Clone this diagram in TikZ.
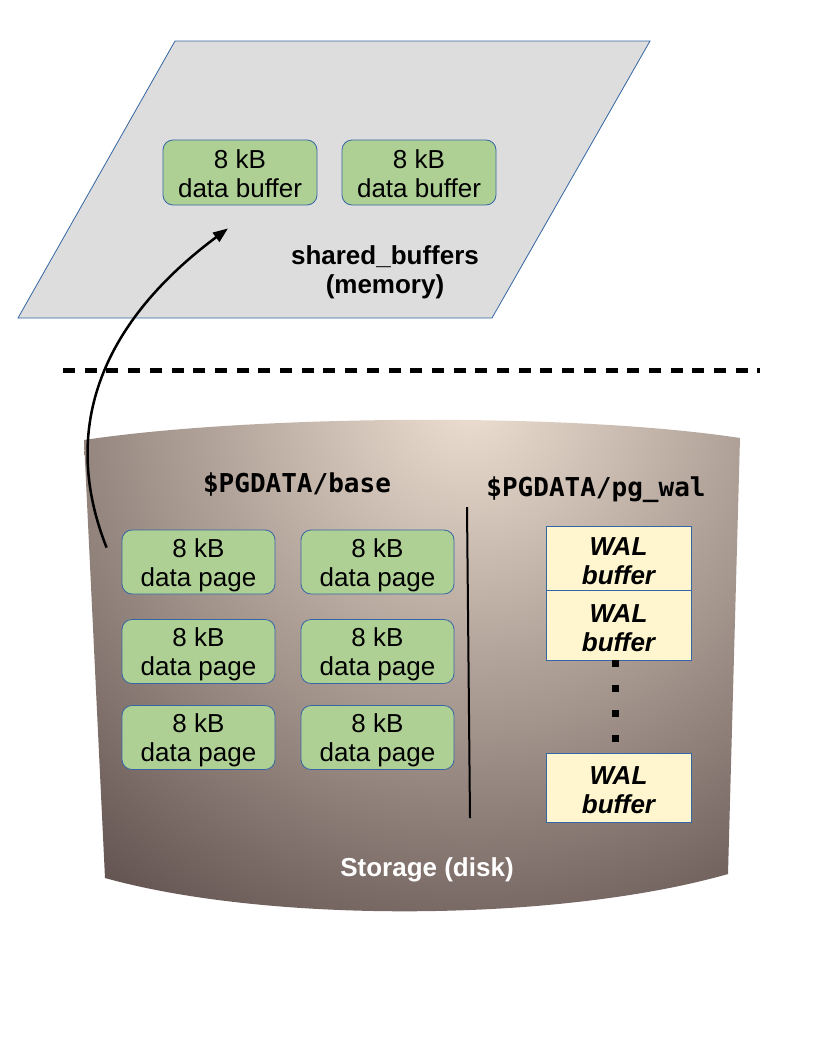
\documentclass[tikz,border=0pt]{standalone}
\usepackage{fontspec}
\setmainfont{Liberation Sans}
\newfontfamily\pgmono{DejaVu Sans Mono}
\usetikzlibrary{arrows.meta}
\definecolor{memgray}{HTML}{DDDDDD}
\definecolor{lineblue}{HTML}{3465A4}
\definecolor{pagegreen}{HTML}{AFD095}
\definecolor{walyellow}{HTML}{FFF5CE}
\definecolor{disklight}{HTML}{EDDFD1}
\definecolor{diskdark}{HTML}{4E3E3D}
\begin{document}
\begin{tikzpicture}[x=1bp,y=-1bp,
	txt/.style={font=\fontsize{26bp}{29bp}\selectfont,align=center,inner sep=0pt},
	pagebox/.style={txt,draw=lineblue,line width=0.8bp,fill=pagegreen,rounded corners=10bp,
		minimum width=153bp,minimum height=64bp},
	walbox/.style={txt,draw=lineblue,line width=0.8bp,fill=walyellow,
		minimum width=145bp,font=\fontsize{26bp}{29bp}\selectfont\bfseries\itshape},
	dirlabel/.style={inner sep=0pt,font=\fontsize{26bp}{29bp}\selectfont\pgmono\bfseries}]
\useasboundingbox (0,0) rectangle (816,1056);
% memory
\draw[draw=lineblue,line width=0.8bp,fill=memgray]
	(175,41) -- (650,41) -- (492,318) -- (18,318) -- cycle;
\node[pagebox,minimum width=154bp,minimum height=65bp] (b1) at (240,172.5) {\rule{0pt}{22bp}8 kB\\data buffer};
\node[pagebox,minimum width=154bp,minimum height=65bp] (b2) at (419,172.5) {\rule{0pt}{22bp}8 kB\\data buffer};
\node[txt,font=\fontsize{26bp}{29bp}\selectfont\bfseries] (mem) at (385,272) {shared\_buffers\\(memory)};
% border memory / disk
\draw[line width=5bp,dash pattern=on 12bp off 9.7bp] (63,370) -- (760,370);
% disk
\begin{scope}
\clip (84,440) .. controls (250,415) and (570,412) .. (740,438)
	-- (728,874) .. controls (560,922) and (270,924) .. (105,878) -- cycle;
\shade[inner color=disklight,outer color=diskdark] (-230,-300) rectangle (1170,1100);
\end{scope}
\node[dirlabel] (base) at (297,485) {\$PGDATA/base};
\node[dirlabel] (wal) at (596,490) {\$PGDATA/pg\_wal};
\draw[line width=2bp] (467,507) -- (470,818);
\foreach \c/\x in {1/198.5,2/377.5}
	\foreach \r/\y in {1/562,2/651.5,3/737.5}
		\node[pagebox] (p\r\c) at (\x,\y) {\rule{0pt}{25bp}8 kB\\data page};
\node[walbox,minimum height=64bp] (w1) at (618.5,558) {\rule{0pt}{24bp}WAL\\buffer};
\node[walbox,minimum height=70bp] (w2) at (618.5,625) {\rule{0pt}{24bp}WAL\\buffer};
\node[walbox,minimum height=69bp] (w3) at (618.5,787.5) {\rule{0pt}{24bp}WAL\\buffer};
\draw[line width=7bp,dash pattern=on 7bp off 18bp]
	([xshift=-3bp]w2.south) -- ([xshift=-3bp]w3.north);
\node[txt,text=white,font=\fontsize{26bp}{29bp}\selectfont\bfseries] (disk) at (427,870) {Storage (disk)};
% read page into buffer
\draw[line width=2.5bp,-{Triangle[length=15bp,width=11bp]}]
	([xshift=-15bp,yshift=-18bp]p11.north west)
	.. controls (58,425) and (105,320) .. ([xshift=-12bp,yshift=-23bp]b1.south);
\end{tikzpicture}
\end{document}
